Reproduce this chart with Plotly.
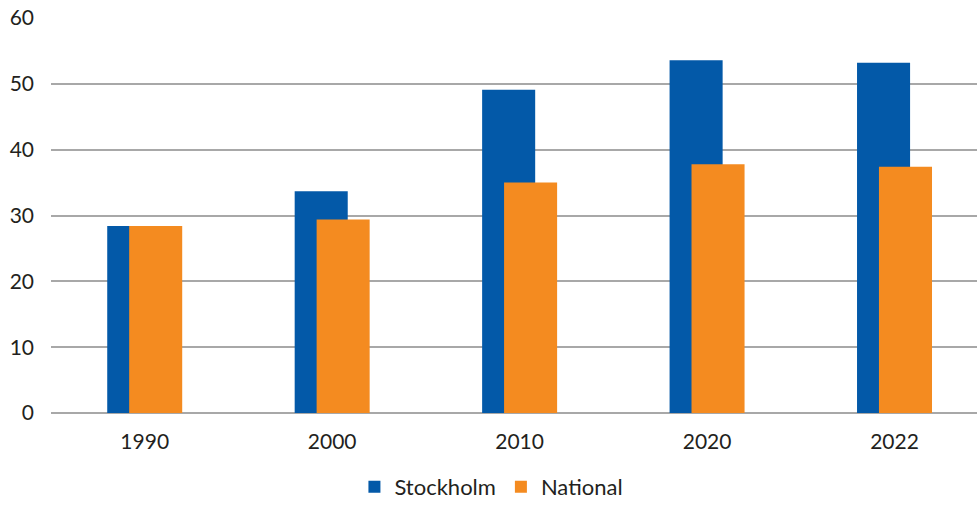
import plotly.graph_objects as go

years = ["1990", "2000", "2010", "2020", "2022"]
stockholm = [28.4, 33.7, 49.1, 53.6, 53.2]
national = [28.4, 29.4, 35.0, 37.8, 37.4]

BLUE = "#0359A8"
ORANGE = "#F48B20"
GRID = "#A8A8A8"
TEXT = "#231F20"
FONT = "Lato, 'Open Sans', sans-serif"

fig = go.Figure()
fig.add_trace(go.Bar(
    x=years, y=stockholm, name="Stockholm",
    marker=dict(color=BLUE, line=dict(width=0)),
    width=0.283, offset=-0.2,
))
fig.add_trace(go.Bar(
    x=years, y=national, name="National",
    marker=dict(color=ORANGE, line=dict(width=0)),
    width=0.283, offset=-0.083,
))

fig.update_layout(
    width=977, height=508,
    margin=dict(l=50.5, r=0, t=18, b=95, autoexpand=False),
    barmode="overlay",
    plot_bgcolor="white", paper_bgcolor="white",
    font=dict(family=FONT, color=TEXT, size=21),
    showlegend=True,
    legend=dict(
        orientation="h", x=0.503, xref="container", xanchor="center",
        y=-0.012, yref="container", yanchor="bottom",
        font=dict(size=22, color=TEXT), itemwidth=30,
        traceorder="normal", borderwidth=0,
    ),
    xaxis=dict(
        type="category", range=[-0.5, 4.44],
        showgrid=False, showline=False, ticks="",
        tickfont=dict(size=21, color=TEXT), ticklabelstandoff=14,
    ),
    yaxis=dict(
        range=[0, 60], dtick=10, tick0=0,
        showgrid=True, gridcolor=GRID, gridwidth=1.5,
        zeroline=True, zerolinecolor=GRID, zerolinewidth=1.5,
        showline=False, ticks="",
        tickfont=dict(size=21, color=TEXT), ticklabelstandoff=16,
    ),
)

fig.write_html("out.html")
